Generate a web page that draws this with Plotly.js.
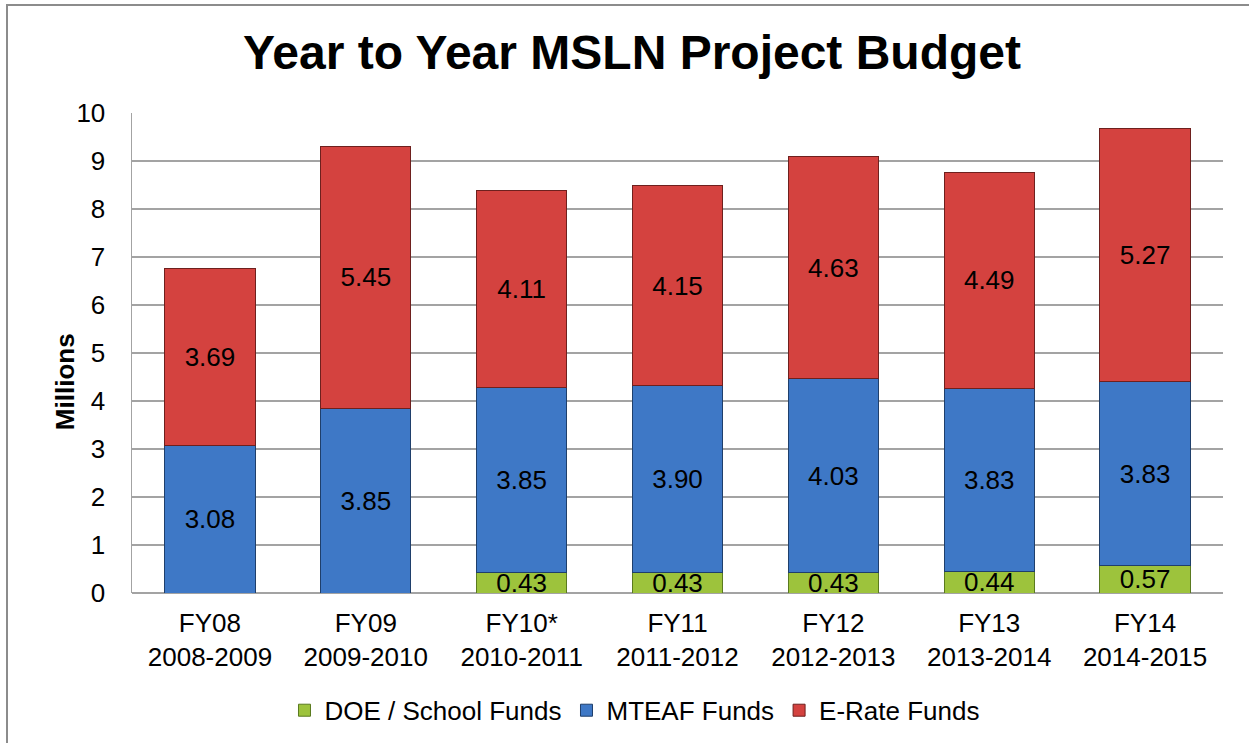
<!DOCTYPE html>
<html>
<head>
<meta charset="utf-8">
<script src="https://cdn.plot.ly/plotly-3.0.1.min.js"></script>
<style>
  html, body { margin: 0; padding: 0; background: #fff; }
  #wrap { position: relative; width: 1249px; height: 743px; }
  #chart { width: 1249px; height: 743px; }
  #frame { position: absolute; left: 6px; top: 4px; right: 0; bottom: 0;
           border-left: 2px solid #8c8c8c; border-top: 2px solid #8c8c8c; pointer-events: none; }
</style>
</head>
<body>
<div id="wrap">
  <div id="chart"></div>
  <div id="frame"></div>
</div>
<script>
// ---- data ----
const categories = [
  "FY08<br>2008-2009",
  "FY09<br>2009-2010",
  "FY10*<br>2010-2011",
  "FY11<br>2011-2012",
  "FY12<br>2012-2013",
  "FY13<br>2013-2014",
  "FY14<br>2014-2015"
];
const doeSchoolFunds = [null, null, 0.43, 0.43, 0.43, 0.44, 0.57];
const mteafFunds     = [3.08, 3.85, 3.85, 3.90, 4.03, 3.83, 3.83];
const eRateFunds     = [3.69, 5.45, 4.11, 4.15, 4.63, 4.49, 5.27];
const yTickValues    = [0, 1, 2, 3, 4, 5, 6, 7, 8, 9, 10];

const FONT = "Liberation Sans, Arial, sans-serif";

function barTrace(name, values, fill, edge) {
  return {
    type: "bar",
    name: name,
    x: categories,
    y: values,
    marker: { color: fill, line: { color: edge, width: 1 } },
    texttemplate: "%{y:.2f}",
    textposition: "inside",
    insidetextanchor: "middle",
    constraintext: "none",
    textangle: 0,
    textfont: { family: FONT, size: 26, color: "#000" },
    hoverinfo: "skip"
  };
}

const data = [
  barTrace("DOE / School Funds", doeSchoolFunds, "#9dc33c", "#5a7a1f"),
  barTrace("MTEAF Funds", mteafFunds, "#3e78c6", "#1f3f6b"),
  barTrace("E-Rate Funds", eRateFunds, "#d4423f", "#6e201e")
];

const layout = {
  width: 1249,
  height: 743,
  margin: { l: 132, r: 26, t: 113, b: 150 },
  paper_bgcolor: "#ffffff",
  plot_bgcolor: "#ffffff",
  barmode: "stack",
  bargap: 0.42,
  font: { family: FONT, color: "#000" },
  title: {
    text: "<b>Year to Year MSLN Project Budget</b>",
    font: { family: FONT, size: 48, color: "#000" },
    xref: "container", x: 0.506, xanchor: "center",
    yref: "container", y: 0.93, yanchor: "middle"
  },
  xaxis: {
    type: "category",
    showgrid: false,
    showline: false,
    ticks: "",
    tickfont: { family: FONT, size: 26, color: "#000" },
    ticklabelstandoff: 12
  },
  yaxis: {
    range: [0, 10],
    tickvals: yTickValues,
    showgrid: true,
    gridcolor: "#a3a3a3",
    gridwidth: 1.5,
    zeroline: true,
    zerolinecolor: "#a3a3a3",
    zerolinewidth: 1.5,
    showline: true,
    linecolor: "#a3a3a3",
    linewidth: 1.5,
    ticks: "",
    tickfont: { family: FONT, size: 26, color: "#000" },
    ticklabelstandoff: 20
  },
  annotations: [{
    text: "<b>Millions</b>",
    textangle: -90,
    xref: "paper", x: -0.062, xanchor: "center",
    yref: "paper", y: 0.44, yanchor: "middle",
    showarrow: false,
    font: { family: FONT, size: 26, color: "#000" }
  }],
  showlegend: true,
  legend: {
    orientation: "h",
    traceorder: "normal",
    xref: "container", x: 0.508, xanchor: "center",
    yref: "container", y: 0.044, yanchor: "middle",
    font: { family: FONT, size: 26, color: "#000" },
    itemwidth: 30,
    bgcolor: "rgba(0,0,0,0)"
  }
};

Plotly.newPlot("chart", data, layout, { displayModeBar: false, staticPlot: true });
</script>
</body>
</html>
